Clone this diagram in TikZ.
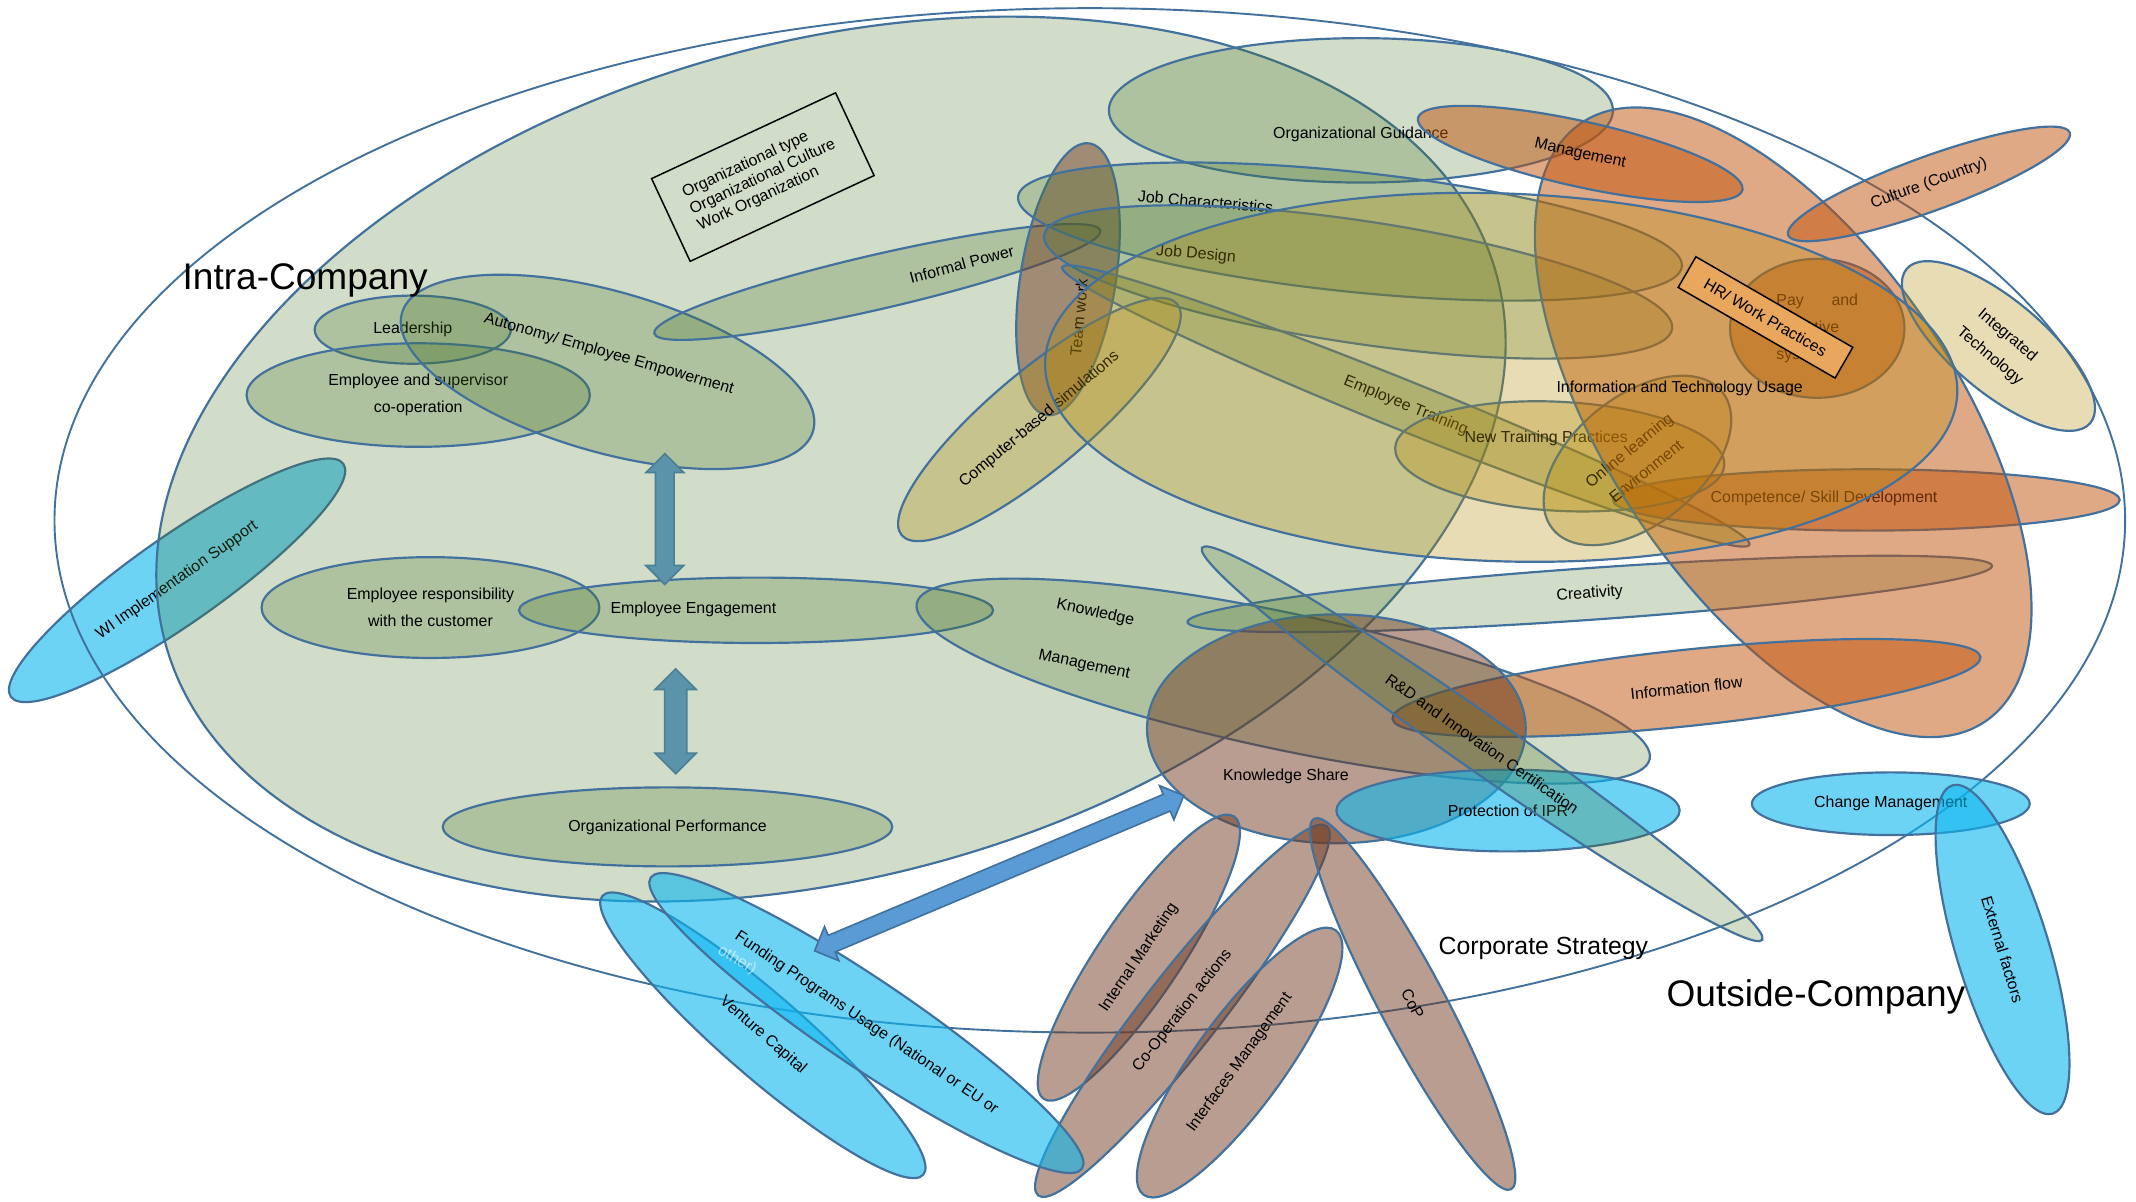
\documentclass[tikz,border=0pt]{standalone}
\usepackage{fontspec}
\setmainfont{Liberation Sans}
\usepackage{tikz}
\usetikzlibrary{shapes.geometric, shapes.arrows, calc}
\definecolor{edge}{HTML}{41719C}
\definecolor{grnC}{HTML}{477327}
\definecolor{orgC}{HTML}{C1530B}
\definecolor{tanC}{HTML}{B28A05}
\definecolor{brnC}{HTML}{713B21}
\definecolor{cynC}{HTML}{0CB6EE}
\definecolor{hrC}{HTML}{E9A65D}
\definecolor{arrA}{HTML}{5B93AB}
\definecolor{arrAedge}{HTML}{4A7F96}
\definecolor{arrB}{HTML}{5B9BD5}
\newcommand\lblfont{\fontsize{11.7}{20}\selectfont}

\begin{document}
\begin{tikzpicture}[x=1pt, y=-1pt,
  blob/.style={ellipse, draw=edge, line width=1.6pt, inner sep=0pt, text opacity=1, font=\lblfont, align=center},
  radii/.style 2 args={minimum width=2*#1, minimum height=2*#2},
  greenblob/.style={blob, fill=grnC, fill opacity=.25},
  orangeblob/.style={blob, fill=orgC, fill opacity=.5},
  tanblob/.style={blob, fill=tanC, fill opacity=.3},
  brownblob/.style={blob, fill=brnC, fill opacity=.5},
  cyanblob/.style={blob, fill=cynC, fill opacity=.6},
  lbl/.style={inner sep=0pt, font=\lblfont, align=center},
  blockarrow/.style={double arrow, inner xsep=0pt, line width=1.2pt, double arrow head extend=7pt}]
  \useasboundingbox (0,0) rectangle (1568,882);

  % outside of the company
  \node[cyanblob, radii={149}{32}, rotate=35] (wi) at (130,426) {WI Implementation Support};
  \node[ellipse, draw=edge, line width=1.4pt, radii={760}{376}] (corp) at (800,382) {};

  % intra-company
  \node[greenblob, radii={507}{306}, rotate=15.6] (intra) at (610,337) {};
  \node[draw=black, line width=1.1pt, rotate=25, minimum width=149, minimum height=67, inner sep=0pt,
        align=left, font=\fontsize{11.7}{13.4}\selectfont] (orgbox) at (560,130)
        {Organizational type\\Organizational Culture\\Work Organization};
  \node[greenblob, radii={72}{25}] (lead) at (303,242) {Leadership};
  \node[greenblob, radii={126}{38}] (empsup) at (307,290) {Employee and supervisor\\co-operation};
  \node[greenblob, radii={157}{59}, rotate=-16] (auto) at (446,273) {};
  \node[lbl, rotate=-16] (auto-t) at (447,260) {Autonomy/ Employee Empowerment};
  \node[greenblob, radii={124}{37}] (resp) at (316,446) {Employee responsibility\\with the customer};
  \node[greenblob, radii={174}{24}] (eng) at (555,448) {};
  \node[lbl] (eng-t) at (509,447) {Employee Engagement};
  \node[greenblob, radii={165}{29}] (perf) at (490,607) {Organizational Performance};
  \node[greenblob, radii={168}{20}, rotate=13] (infp) at (644,207) {};
  \node[lbl, rotate=15] (infp-t) at (706,194) {Informal Power};
  \node[greenblob, radii={185}{53}] (guide) at (999,81) {};
  \node[lbl] (guide-t) at (999,99) {Organizational Guidance};
  \node[brownblob, radii={101}{35}, rotate=81] (team) at (784,205) {};
  \node[lbl, rotate=85] (team-t) at (792,233) {Team work};
  \node[greenblob, radii={245}{44}, rotate=-6] (jobc) at (991,170) {};
  \node[lbl, rotate=-5] (jobc-t) at (885,148) {Job Characteristics};
  \node[greenblob, radii={233}{45}, rotate=-8.5] (jobd) at (997,207) {};
  \node[lbl, rotate=-5] (jobd-t) at (878,187) {Job Design};
  \node[greenblob, radii={272}{18}, rotate=-22] (train) at (1032,298) {Employee Training};
  \node[tanblob, radii={132}{36}, rotate=40] (sim) at (763,308) {Computer-based simulations};
  \node[greenblob, radii={275}{50}, rotate=-12] (km) at (942,500) {};
  \node[lbl, rotate=-12, font=\fontsize{11.7}{39}\selectfont] (km-t) at (800,469) {Knowledge\\Management};
  \node[greenblob, radii={296}{19}, rotate=4] (creat) at (1167,436) {Creativity};

  % HR / work practices
  \node[orangeblob, radii={186}{22.5}] (comp) at (1370,367) {};
  \node[lbl] (comp-t) at (1339,366) {Competence/ Skill Development};
  \node[orangeblob, radii={64}{51}, text width=60pt, align=left] (pay) at (1334,241) {Pay\hfill and\\incentive\\system};
  \node[tanblob, radii={121}{40}, rotate=-3] (ntp) at (1145,335) {};
  \node[lbl] (ntp-t) at (1135,322) {New Training Practices};
  \node[tanblob, radii={80}{47}, rotate=39] (online) at (1202,338) {Online learning\\Environment};
  \node[orangeblob, radii={265}{128}, rotate=-56] (hr) at (1309,310) {};
  \node[orangeblob, radii={122}{24}, rotate=-12.5] (mgmt) at (1160,113) {Management};
  \node[orangeblob, radii={110}{20}, rotate=20] (cult) at (1416,135) {Culture (Country)};
  \node[tanblob, radii={88}{34}, rotate=-40] (integ) at (1467,254) {Integrated\\Technology};
  \node[tanblob, radii={335}{135}, rotate=-2] (itu) at (1102,277) {};
  \node[lbl] (itu-t) at (1233,285) {Information and Technology Usage};
  \node[draw=black, fill=hrC, line width=1.1pt, rotate=-30, minimum width=133, minimum height=26,
        inner sep=0pt, font=\lblfont] (hrbox) at (1296,233) {HR/ Work Practices};
  \node[orangeblob, radii={217}{28}, rotate=6] (flow) at (1238,505) {Information flow};

  % knowledge
  \node[brownblob, radii={139}{84}] (ks) at (981,535) {};
  \node[lbl] (ks-t) at (944,570) {Knowledge Share};
  \node[brownblob, radii={125}{30}, rotate=56] (imkt) at (836,703) {Internal Marketing};
  \node[brownblob, radii={172}{28}, rotate=52] (coop) at (868,742) {Co-Operation actions};
  \node[brownblob, radii={120}{33}, rotate=54] (iface) at (910,780) {Interfaces Management};
  \node[brownblob, radii={154}{24}, rotate=-62] (cop) at (1037,737) {CoP};
  \node[cyanblob, radii={126}{30}] (ipr) at (1107,595) {Protection of IPR};
  \node[greenblob, radii={251}{20}, rotate=-35] (rnd) at (1088,546) {R\&D and Innovation Certification};
  \node[cyanblob, radii={102}{23}] (change) at (1388,590) {Change Management};
  \node[cyanblob, radii={126}{34}, rotate=-73] (ext) at (1470,697) {External factors};
  \node[cyanblob, radii={156}{30}, rotate=-41] (vc) at (560,760) {Venture Capital};
  \node[cyanblob, radii={191}{32}, rotate=-34] (fund) at (636,751) {Funding Programs Usage (National or EU or};
  \node[lbl, text=white, text opacity=.55, rotate=-30] (fund-t) at (541,705) {other)};

  % block arrows
  \coordinate (up1) at (488,333);
  \coordinate (dn1) at (488,429);
  \coordinate (up2) at (496,491);
  \coordinate (dn2) at (496,568);
  \coordinate (fundtip) at (598,698);
  \coordinate (kstip) at (869,584);
  \path let \p1=($(dn1)-(up1)$), \n1={veclen(\x1,\y1)} in (up1) -- (dn1)
    node[blockarrow, midway, sloped, minimum height=\n1, inner ysep=6.25pt, fill=arrA, draw=arrAedge] (arr1) {};
  \path let \p1=($(dn2)-(up2)$), \n1={veclen(\x1,\y1)} in (up2) -- (dn2)
    node[blockarrow, midway, sloped, minimum height=\n1, inner ysep=7.5pt, fill=arrA, draw=arrAedge] (arr2) {};
  \path let \p1=($(kstip)-(fundtip)$), \n1={veclen(\x1,\y1)} in (fundtip) -- (kstip)
    node[blockarrow, midway, sloped, minimum height=\n1, inner ysep=6pt, fill=arrB, draw=edge] (arr3) {};

  % region names
  \node[inner sep=0pt, font=\fontsize{27.2}{30}\selectfont] (intra-t) at (224,206) {Intra-Company};
  \node[inner sep=0pt, font=\fontsize{27.2}{30}\selectfont] (outside-t) at (1333,732) {Outside-Company};
  \node[inner sep=0pt, font=\fontsize{18.2}{20}\selectfont] (corp-t) at (1133,696) {Corporate Strategy};
\end{tikzpicture}
\end{document}
